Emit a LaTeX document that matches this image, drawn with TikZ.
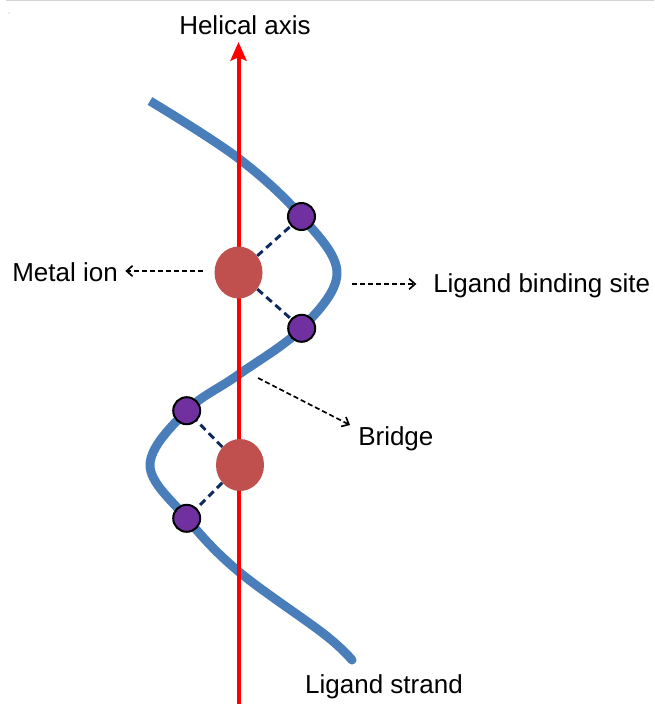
\documentclass[tikz,border=0pt]{standalone}
\usepackage{fontspec}
\setmainfont{Liberation Sans}
\usetikzlibrary{arrows.meta,shapes.geometric}
\definecolor{strandblue}{HTML}{4A7EBB}
\definecolor{ionred}{HTML}{C0504D}
\definecolor{sitepurple}{HTML}{7030A0}
\definecolor{bondnavy}{HTML}{0F2A5E}
\begin{document}
\begin{tikzpicture}[x=0.75pt,y=-0.75pt,
  strandsty/.style={draw=strandblue, line width=6.75pt, line cap=butt, line join=round},
  axissty/.style={draw=red, line width=3pt, -{Stealth[length=14pt,width=12pt,inset=2.5pt]}},
  ionsty/.style={ellipse, fill=ionred, draw=none, minimum width=36pt, minimum height=39pt, inner sep=0pt},
  sitesty/.style={circle, fill=sitepurple, draw=black, line width=1.5pt, minimum size=20.25pt, inner sep=0pt},
  bondsty/.style={draw=bondnavy, line width=2.2pt, dash pattern=on 5.5pt off 3.5pt},
  annot/.style={draw=black, line width=1.25pt, dash pattern=on 3.8pt off 2.2pt, -{Straight Barb[length=4.5pt,width=8pt]}},
  lbl/.style={font=\fontsize{19.5}{22}\selectfont, inner sep=0pt, text=black}]
\useasboundingbox (0,0) rectangle (654,704);
% faint top rule and dot
\draw[gray!35, line width=0.9pt] (6,0.6) -- (654,0.6);
\fill[gray!60] (9,13) circle (0.6);
% ligand strand
\path[strandsty] plot[smooth, tension=0.6] coordinates {(150,101) (238,158) (301.5,216.5) (337,273) (301.7,328.3) (238,375) (186.7,410.7) (150,465) (186.7,518.3) (238,571) (324,634) (352,660)};
\fill[strandblue] (352,660) circle (4.5);
% helical axis
\coordinate (axbot) at (238.5,704);
\coordinate (axtop) at (238.5,42);
\draw[axissty] (axbot) -- (axtop);
% metal ions and binding sites
\node[ionsty] (m1) at (238.5,272.5) {};
\node[ionsty] (m2) at (240,465) {};
\node[sitesty] (s1) at (301.5,216.5) {};
\node[sitesty] (s2) at (301.7,328.3) {};
\node[sitesty] (s3) at (186.7,410.7) {};
\node[sitesty] (s4) at (186.7,518.3) {};
\draw[bondsty] (m1) -- (s1);
\draw[bondsty] (m1) -- (s2);
\draw[bondsty] (m2) -- (s3);
\draw[bondsty] (m2) -- (s4);
% labels
\node[lbl, anchor=base] (hax) at (245,34) {Helical axis};
\node[lbl, anchor=base west] (mi) at (12,281) {Metal ion};
\node[lbl, anchor=base west] (lbs) at (433,292) {Ligand binding site};
\node[lbl, anchor=base west] (br) at (358,445) {Bridge};
\node[lbl, anchor=base] (ls) at (384,693) {Ligand strand};
% annotation arrows
\coordinate (a1) at (203,271);
\coordinate (a2) at (352,284);
\coordinate (b1) at (258,378);
\coordinate (b2) at (350,425);
\draw[annot, shorten >=5.5pt] (a1) -- (mi.east |- a1);
\draw[annot, shorten >=12.5pt] (a2) -- (a2 -| lbs.west);
\draw[annot] (b1) -- (b2);
\end{tikzpicture}
\end{document}
